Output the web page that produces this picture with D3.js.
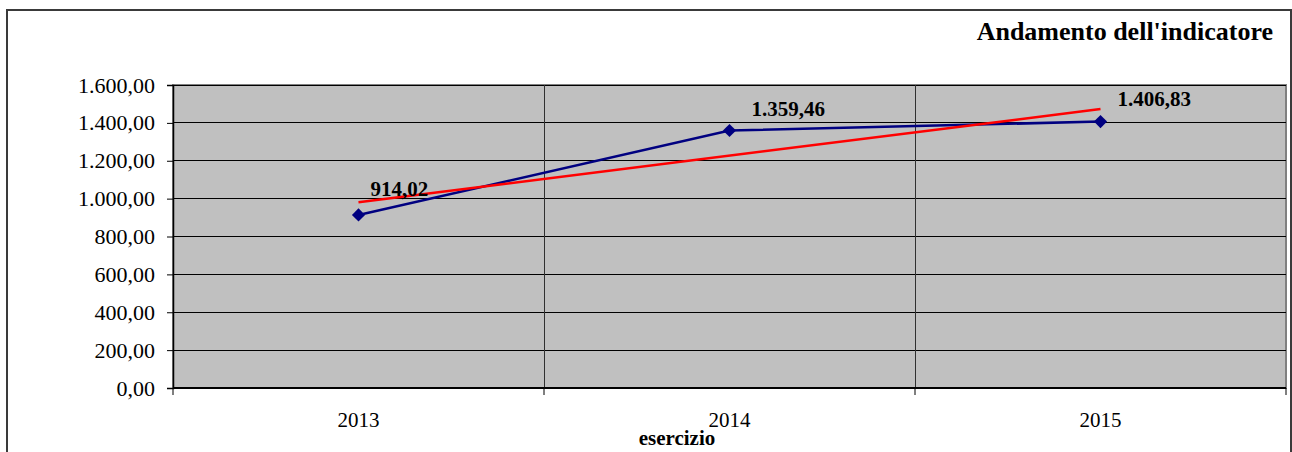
<!DOCTYPE html>
<html>
<head>
<meta charset="utf-8">
<script src="https://cdn.jsdelivr.net/npm/d3@7"></script>
<style>
  body { margin: 0; background: #fff; }
  text { font-family: "Liberation Serif", "Times New Roman", serif; }
</style>
</head>
<body>
<div id="chart"></div>
<script>
// ---------------- data
const years = ["2013", "2014", "2015"]
const values = [914.02, 1359.46, 1406.83]
const labels = ["914,02", "1.359,46", "1.406,83"]
// linear trend, endpoints
const trendYears = ["2013", "2015"]
const trendValues = [980.36, 1473.18]
const yTicks = [0, 200, 400, 600, 800, 1000, 1200, 1400, 1600]

// label nudges (px), as placed in the original
const labelDx = [12, 22, 17]
const labelDy = [-19, -15, -16]

// ---------------- dimensions
const dimensions = {
  width: 1292,
  height: 452,
  left: 173,
  right: 1286,
  top: 85,
  bottom: 388
}

const svg = d3.select("#chart")
  .append("svg")
  .attr("width", dimensions.width)
  .attr("height", dimensions.height)

// outer frame
svg.append("rect")
  .attr("x", 7)
  .attr("y", 10)
  .attr("width", 1284)
  .attr("height", 460)
  .attr("fill", "none")
  .attr("stroke", "#3a3a3a")
  .attr("stroke-width", 2)

// ---------------- scales
const xScale = d3.scaleBand()
  .domain(years)
  .range([dimensions.left, dimensions.right])

const xCenter = d => xScale(d) + xScale.bandwidth() / 2

const yScale = d3.scaleLinear()
  .domain([0, 1600])
  .range([dimensions.bottom, dimensions.top])

// plot area
svg.append("rect")
  .attr("x", dimensions.left)
  .attr("y", dimensions.top)
  .attr("width", dimensions.right - dimensions.left)
  .attr("height", dimensions.bottom - dimensions.top)
  .attr("fill", "#c0c0c0")
  .attr("stroke", "#808080")
  .attr("stroke-width", 2)

// horizontal grid
svg.append("g")
  .selectAll("line")
  .data(yTicks.slice(1))
  .join("line")
  .attr("x1", dimensions.left)
  .attr("x2", dimensions.right)
  .attr("y1", d => yScale(d))
  .attr("y2", d => yScale(d))
  .attr("stroke", "#000")
  .attr("stroke-width", 1)
  .attr("shape-rendering", "crispEdges")

// vertical grid at category boundaries
svg.append("g")
  .selectAll("line")
  .data(years.slice(1))
  .join("line")
  .attr("x1", d => xScale(d))
  .attr("x2", d => xScale(d))
  .attr("y1", dimensions.top)
  .attr("y2", dimensions.bottom)
  .attr("stroke", "#303030")
  .attr("stroke-width", 1)
  .attr("shape-rendering", "crispEdges")

// ---------------- axes
const itFormat = d => d3.format(",.2f")(d).replace(/,/g, "#").replace(".", ",").replace(/#/g, ".")

const yAxis = d3.axisLeft(yScale)
  .tickValues(yTicks)
  .tickSize(6)
  .tickPadding(12)
  .tickFormat(itFormat)

const yAxisG = svg.append("g")
  .attr("transform", `translate(${dimensions.left},0)`)
  .call(yAxis)
yAxisG.select(".domain").attr("stroke", "#000").attr("stroke-width", 1.5)
yAxisG.selectAll("text")
  .style("font-size", "22px")
  .style("font-family", "Liberation Serif")
  .attr("fill", "#000")

const xAxisG = svg.append("g")
  .attr("transform", `translate(0,${dimensions.bottom})`)
xAxisG.append("line")
  .attr("x1", dimensions.left)
  .attr("x2", dimensions.right)
  .attr("stroke", "#000")
  .attr("stroke-width", 2)
xAxisG.selectAll(".tk")
  .data(years.concat(["end"]))
  .join("line")
  .attr("x1", (d, i) => dimensions.left + i * xScale.bandwidth())
  .attr("x2", (d, i) => dimensions.left + i * xScale.bandwidth())
  .attr("y1", 0)
  .attr("y2", 7)
  .attr("stroke", "#000")
  .attr("stroke-width", 1)
xAxisG.selectAll("text")
  .data(years)
  .join("text")
  .attr("x", d => xCenter(d))
  .attr("y", 39)
  .attr("text-anchor", "middle")
  .style("font-size", "21px")
  .text(d => d)

// axis title
svg.append("text")
  .attr("x", 677)
  .attr("y", 445)
  .attr("text-anchor", "middle")
  .style("font-size", "21px")
  .style("font-weight", "bold")
  .text("esercizio")

// chart title
svg.append("text")
  .attr("x", 1273)
  .attr("y", 40)
  .attr("text-anchor", "end")
  .style("font-size", "26px")
  .style("font-weight", "bold")
  .text("Andamento dell'indicatore")

// ---------------- lines
const line = d3.line()
  .x(d => xCenter(d[0]))
  .y(d => yScale(d[1]))

svg.append("path")
  .attr("d", line(years.map((y, i) => [y, values[i]])))
  .attr("fill", "none")
  .attr("stroke", "#000080")
  .attr("stroke-width", 2.5)

svg.append("path")
  .attr("d", line(trendYears.map((y, i) => [y, trendValues[i]])))
  .attr("fill", "none")
  .attr("stroke", "#ff0000")
  .attr("stroke-width", 2.5)

// markers
svg.append("g")
  .selectAll("path")
  .data(years)
  .join("path")
  .attr("d", d3.symbol(d3.symbolDiamond2, 110))
  .attr("transform", (d, i) => `translate(${xCenter(d)},${yScale(values[i])})`)
  .attr("fill", "#000080")

// data labels
svg.append("g")
  .selectAll("text")
  .data(years)
  .join("text")
  .attr("x", (d, i) => xCenter(d) + labelDx[i])
  .attr("y", (d, i) => yScale(values[i]) + labelDy[i])
  .style("font-size", "21px")
  .style("font-weight", "bold")
  .text((d, i) => labels[i])
</script>
</body>
</html>
